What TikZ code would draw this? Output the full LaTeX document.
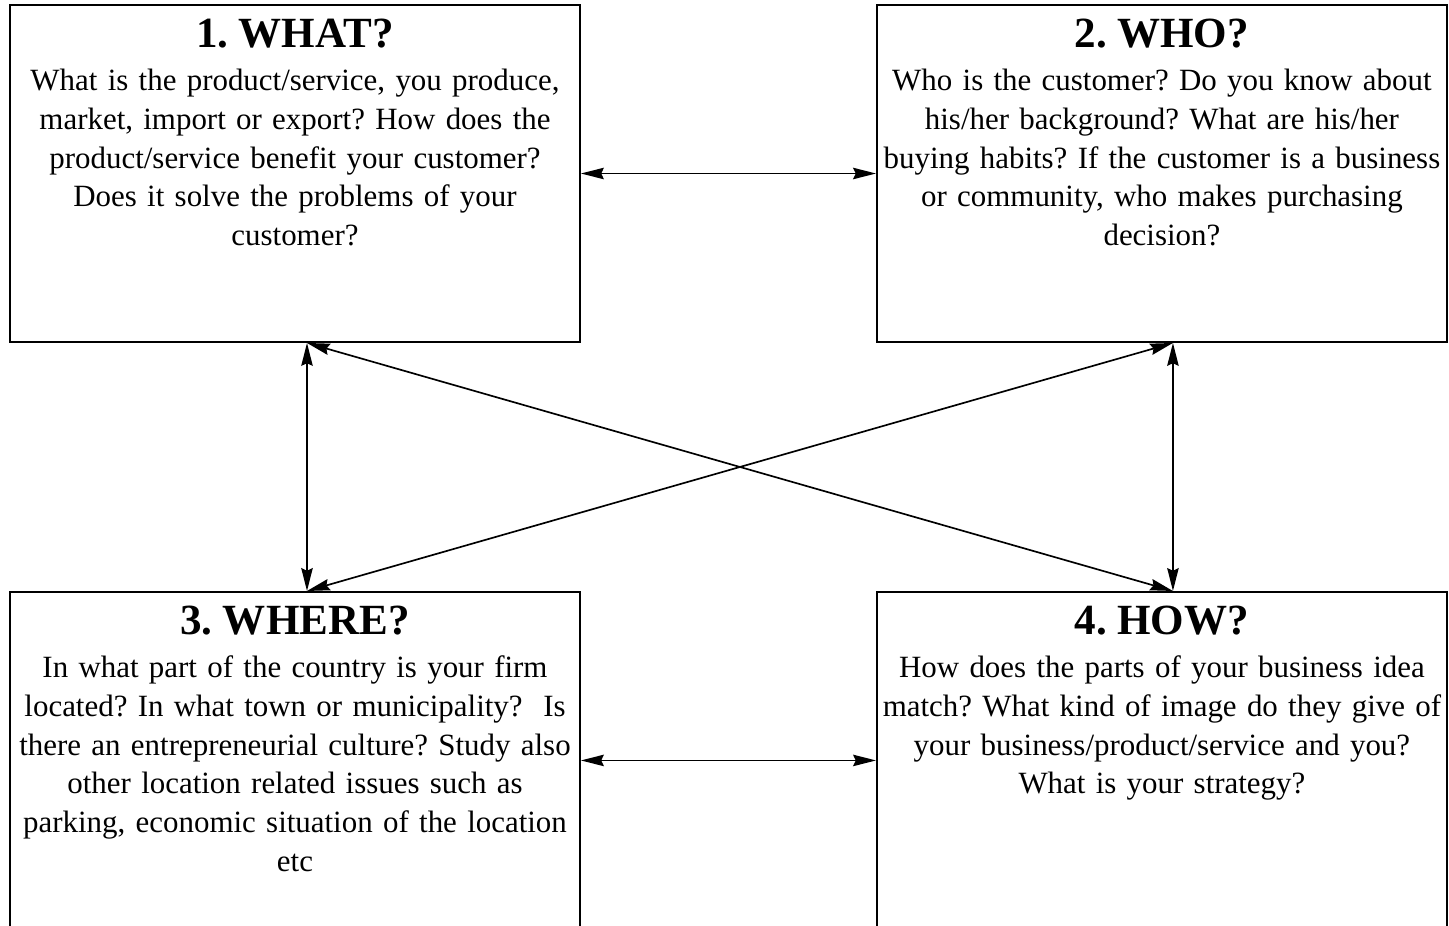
\documentclass[tikz,border=0pt]{standalone}
\usepackage{fontspec}
\setmainfont{Liberation Serif}
\usetikzlibrary{arrows.meta,positioning}
\frenchspacing

\newcommand{\boxtitle}[1]{{\fontsize{24.5}{28}\selectfont\bfseries #1}}

\begin{document}
\begin{tikzpicture}[
    node distance=4.96cm and 5.9cm,
    box/.style={draw, line width=1.1pt, rectangle, minimum width=11.4cm, minimum height=6.74cm, inner sep=0pt},
    boxtext/.style={anchor=north, text width=11.8cm, align=center, inner sep=0pt, font=\fontsize{17.6}{22}\selectfont},
    arrow/.style={<->, >={Stealth[length=13pt, width=6.5pt, inset=1.5pt]}, line width=0.95pt}
]

% Page frame (the lower boxes run off the bottom)
\useasboundingbox (0,0) rectangle (28.98,-18.5);
\clip (0,0) rectangle (28.98,-18.5);

% Boxes
\node[box] (what) at (5.9,-3.47) {};
\node[box, right=of what] (who) {};
\node[box, below=of what] (where) {};
\node[box, below=of who] (how) {};

% Box texts
\node[boxtext] (whattxt) at ([yshift=-0.3cm]what.north) {\boxtitle{1. WHAT?}\\[2.5pt]
    What is the product/service, you produce,\\
    market, import or export? How does the\\
    product/service benefit your customer?\\
    Does it solve the problems of your\\
    customer?};
\node[boxtext] (whotxt) at ([yshift=-0.3cm]who.north) {\boxtitle{2. WHO?}\\[2.5pt]
    Who is the customer? Do you know about\\
    his/her background? What are his/her\\
    buying habits? If the customer is a business\\
    or community, who makes purchasing\\
    decision?};
\node[boxtext] (wheretxt) at ([yshift=-0.3cm]where.north) {\boxtitle{3. WHERE?}\\[2.5pt]
    In what part of the country is your firm\\
    located? In what town or municipality?\ \ Is\\
    there an entrepreneurial culture? Study also\\
    other location related issues such as\\
    parking, economic situation of the location\\
    etc};
\node[boxtext] (howtxt) at ([yshift=-0.3cm]how.north) {\boxtitle{4. HOW?}\\[2.5pt]
    How does the parts of your business idea\\
    match? What kind of image do they give of\\
    your business/product/service and you?\\
    What is your strategy?};

% Arrow ends on the box edges
\coordinate (whatfoot) at ([xshift=0.24cm]what.south);
\coordinate (whofoot) at ([xshift=0.22cm]who.south);
\coordinate (wheretop) at ([xshift=0.24cm]where.north);
\coordinate (howtop) at ([xshift=0.22cm]how.north);

% Arrows
\draw[arrow] (what) -- (who);
\draw[arrow] (where) -- (how);
\draw[arrow] (whatfoot) -- (wheretop);
\draw[arrow] (whofoot) -- (howtop);
\draw[arrow] (whatfoot) -- (howtop);
\draw[arrow] (whofoot) -- (wheretop);
\end{tikzpicture}
\end{document}
